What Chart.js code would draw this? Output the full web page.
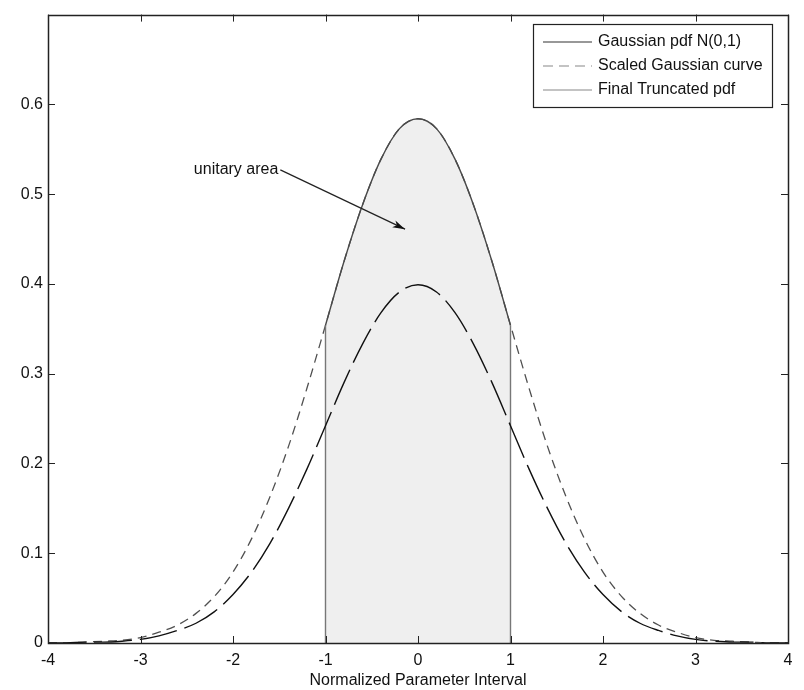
<!DOCTYPE html>
<html>
<head>
<meta charset="utf-8">
<script src="https://cdn.jsdelivr.net/npm/chart.js@4/dist/chart.umd.min.js"></script>
<style>
  html, body { margin: 0; padding: 0; background: #fff; }
  #wrap { width: 804px; height: 690px; }
</style>
</head>
<body>
<div id="wrap"><canvas id="pdfChart" width="804" height="690"></canvas></div>
<script>
// values
const xValues = [-4, -3.8, -3.6, -3.4, -3.2, -3, -2.8, -2.6, -2.4, -2.2, -2, -1.8, -1.6, -1.4, -1.2, -1, -0.8, -0.6, -0.4, -0.2,
    0, 0.2, 0.4, 0.6, 0.8, 1, 1.2, 1.4, 1.6, 1.8, 2, 2.2, 2.4, 2.6, 2.8, 3, 3.2, 3.4, 3.6, 3.8, 4];
const gaussianPdf = [0.000, 0.000, 0.001, 0.001, 0.002, 0.004, 0.008, 0.014, 0.022, 0.035, 0.054, 0.079, 0.111, 0.150, 0.194, 0.242, 0.290, 0.333, 0.368, 0.391,
    0.399, 0.391, 0.368, 0.333, 0.290, 0.242, 0.194, 0.150, 0.111, 0.079, 0.054, 0.035, 0.022, 0.014, 0.008, 0.004, 0.002, 0.001, 0.001, 0.000, 0.000];
const scaledPdf = [0.000, 0.000, 0.001, 0.002, 0.003, 0.006, 0.012, 0.020, 0.033, 0.052, 0.079, 0.116, 0.163, 0.219, 0.284, 0.354, 0.425, 0.488, 0.539, 0.573,
    0.584, 0.573, 0.539, 0.488, 0.425, 0.354, 0.284, 0.219, 0.163, 0.116, 0.079, 0.052, 0.033, 0.020, 0.012, 0.006, 0.003, 0.002, 0.001, 0.000, 0.000];
// truncated pdf: top curve on [-1, 1] and its two vertical sides
const truncX = [-1, -0.8, -0.6, -0.4, -0.2, 0, 0.2, 0.4, 0.6, 0.8, 1];
const truncY = [0.354, 0.425, 0.488, 0.539, 0.573, 0.584, 0.573, 0.539, 0.488, 0.425, 0.354];
const leftSideX = [-1, -1];
const rightSideX = [1, 1];
const sideY = [0, 0.354];

const seriesNames = ["Gaussian pdf N(0,1)", "Scaled Gaussian curve", "Final Truncated pdf"];
const xTicks = [-4, -3, -2, -1, 0, 1, 2, 3, 4];
const yTicks = [0, 0.1, 0.2, 0.3, 0.4, 0.5, 0.6, 0.7];
const xTitle = "Normalized Parameter Interval";
const noteText = "unitary area";
const noteAt = [-1.51, 0.527];   // end of the label
const noteTip = [-0.14, 0.461];  // arrow head

const FAMILY = "'Liberation Sans', Arial, sans-serif";
const FONT = "16px " + FAMILY;

function toPoints(xs, ys) {
    return xs.map((x, i) => ({ x: x, y: ys[i] }));
}

// box, inward ticks on all sides, legend and the arrow note
const frame = {
    id: "frame",
    afterDraw(chart) {
        const ctx = chart.ctx;
        const a = chart.chartArea;
        const xs = chart.scales.x, ys = chart.scales.y;
        ctx.save();
        ctx.strokeStyle = "#222";
        ctx.lineWidth = 1;
        ctx.beginPath();
        xTicks.forEach(v => {
            const px = Math.round(xs.getPixelForValue(v)) + 0.5;
            ctx.moveTo(px, a.bottom); ctx.lineTo(px, a.bottom - 7);
            ctx.moveTo(px, a.top); ctx.lineTo(px, a.top + 7);
        });
        yTicks.forEach(v => {
            const py = Math.round(ys.getPixelForValue(v)) + 0.5;
            ctx.moveTo(a.left, py); ctx.lineTo(a.left + 7, py);
            ctx.moveTo(a.right, py); ctx.lineTo(a.right - 7, py);
        });
        ctx.stroke();
        ctx.lineWidth = 1.5;
        ctx.strokeRect(Math.round(a.left) + 0.5, Math.round(a.top) + 0.5,
            Math.round(a.right - a.left), Math.round(a.bottom - a.top));

        // legend
        const lx = 533, ly = 24, lw = 239, lh = 83;
        ctx.fillStyle = "#fff";
        ctx.fillRect(lx, ly, lw, lh);
        ctx.lineWidth = 1.2;
        ctx.strokeStyle = "#222";
        ctx.strokeRect(lx + 0.5, ly + 0.5, lw, lh);
        const styles = [
            { color: "#333", dash: [] },
            { color: "#888", dash: [10, 6] },
            { color: "#888", dash: [] }
        ];
        ctx.font = FONT;
        ctx.textBaseline = "middle";
        seriesNames.forEach((name, i) => {
            const y = ly + 18 + i * 24;
            ctx.beginPath();
            ctx.setLineDash(styles[i].dash);
            ctx.strokeStyle = styles[i].color;
            ctx.lineWidth = 1.2;
            ctx.moveTo(543, y); ctx.lineTo(592, y);
            ctx.stroke();
            ctx.setLineDash([]);
            ctx.fillStyle = "#111";
            ctx.fillText(name, 598, y);
        });

        // note with arrow
        const tx = xs.getPixelForValue(noteAt[0]), ty = ys.getPixelForValue(noteAt[1]);
        const hx = xs.getPixelForValue(noteTip[0]), hy = ys.getPixelForValue(noteTip[1]);
        ctx.fillStyle = "#111";
        ctx.textAlign = "right";
        ctx.fillText(noteText, tx, ty);
        ctx.strokeStyle = "#222";
        ctx.lineWidth = 1.2;
        ctx.beginPath();
        ctx.moveTo(tx + 2, ty); ctx.lineTo(hx, hy);
        ctx.stroke();
        const ang = Math.atan2(hy - ty, hx - tx);
        ctx.beginPath();
        ctx.moveTo(hx, hy);
        ctx.lineTo(hx - 13 * Math.cos(ang - 0.3), hy - 13 * Math.sin(ang - 0.3));
        ctx.lineTo(hx - 9 * Math.cos(ang), hy - 9 * Math.sin(ang));
        ctx.lineTo(hx - 13 * Math.cos(ang + 0.3), hy - 13 * Math.sin(ang + 0.3));
        ctx.closePath();
        ctx.fillStyle = "#111";
        ctx.fill();
        ctx.restore();
    }
};

const sideStyle = {
    showLine: true,
    borderColor: "#777",
    borderWidth: 1.4,
    pointRadius: 0,
    order: 2
};

const ctx = document.getElementById("pdfChart").getContext("2d");
new Chart(ctx, {
    type: "scatter",
    data: {
        datasets: [
            {
                label: seriesNames[0],
                data: toPoints(xValues, gaussianPdf),
                showLine: true,
                borderColor: "#111",
                borderWidth: 1.4,
                borderDash: [38, 8],
                pointRadius: 0,
                cubicInterpolationMode: "monotone",
                order: 1
            },
            {
                label: seriesNames[2],
                data: toPoints(truncX, truncY),
                showLine: true,
                borderColor: "#4a4a4a",
                borderWidth: 1.4,
                backgroundColor: "#efefef",
                fill: "origin",
                pointRadius: 0,
                cubicInterpolationMode: "monotone",
                order: 2
            },
            Object.assign({ label: seriesNames[2] + " left", data: toPoints(leftSideX, sideY) }, sideStyle),
            Object.assign({ label: seriesNames[2] + " right", data: toPoints(rightSideX, sideY) }, sideStyle),
            {
                label: seriesNames[1],
                data: toPoints(xValues, scaledPdf),
                showLine: true,
                borderColor: "#505050",
                borderWidth: 1.3,
                borderDash: [9, 6],
                pointRadius: 0,
                cubicInterpolationMode: "monotone",
                order: 3
            }
        ]
    },
    options: {
        responsive: false,
        animation: false,
        layout: { padding: { top: 12, right: 16, left: 0, bottom: 0 } },
        plugins: {
            legend: { display: false },
            tooltip: { enabled: false },
            filler: { drawTime: "beforeDatasetsDraw" }
        },
        scales: {
            x: {
                type: "linear",
                min: -4,
                max: 4,
                afterFit: s => { s.height = 47; },
                afterBuildTicks: s => { s.ticks = xTicks.map(v => ({ value: v })); },
                grid: { display: false, drawTicks: false },
                border: { display: false },
                ticks: { color: "#111", font: { family: FAMILY, size: 16 }, padding: 8, maxRotation: 0 },
                title: {
                    display: true,
                    text: xTitle,
                    color: "#111",
                    font: { family: FAMILY, size: 16 },
                    padding: { top: 0, bottom: 0 }
                }
            },
            y: {
                min: 0,
                max: 0.7,
                afterFit: s => { s.width = 48; },
                afterBuildTicks: s => { s.ticks = yTicks.map(v => ({ value: v })); },
                grid: { display: false, drawTicks: false },
                border: { display: false },
                ticks: {
                    color: "#111",
                    font: { family: FAMILY, size: 16 },
                    padding: 5,
                    callback: v => (v >= 0.7 ? "" : String(Math.round(v * 10) / 10))
                }
            }
        }
    },
    plugins: [frame]
});
</script>
</body>
</html>
